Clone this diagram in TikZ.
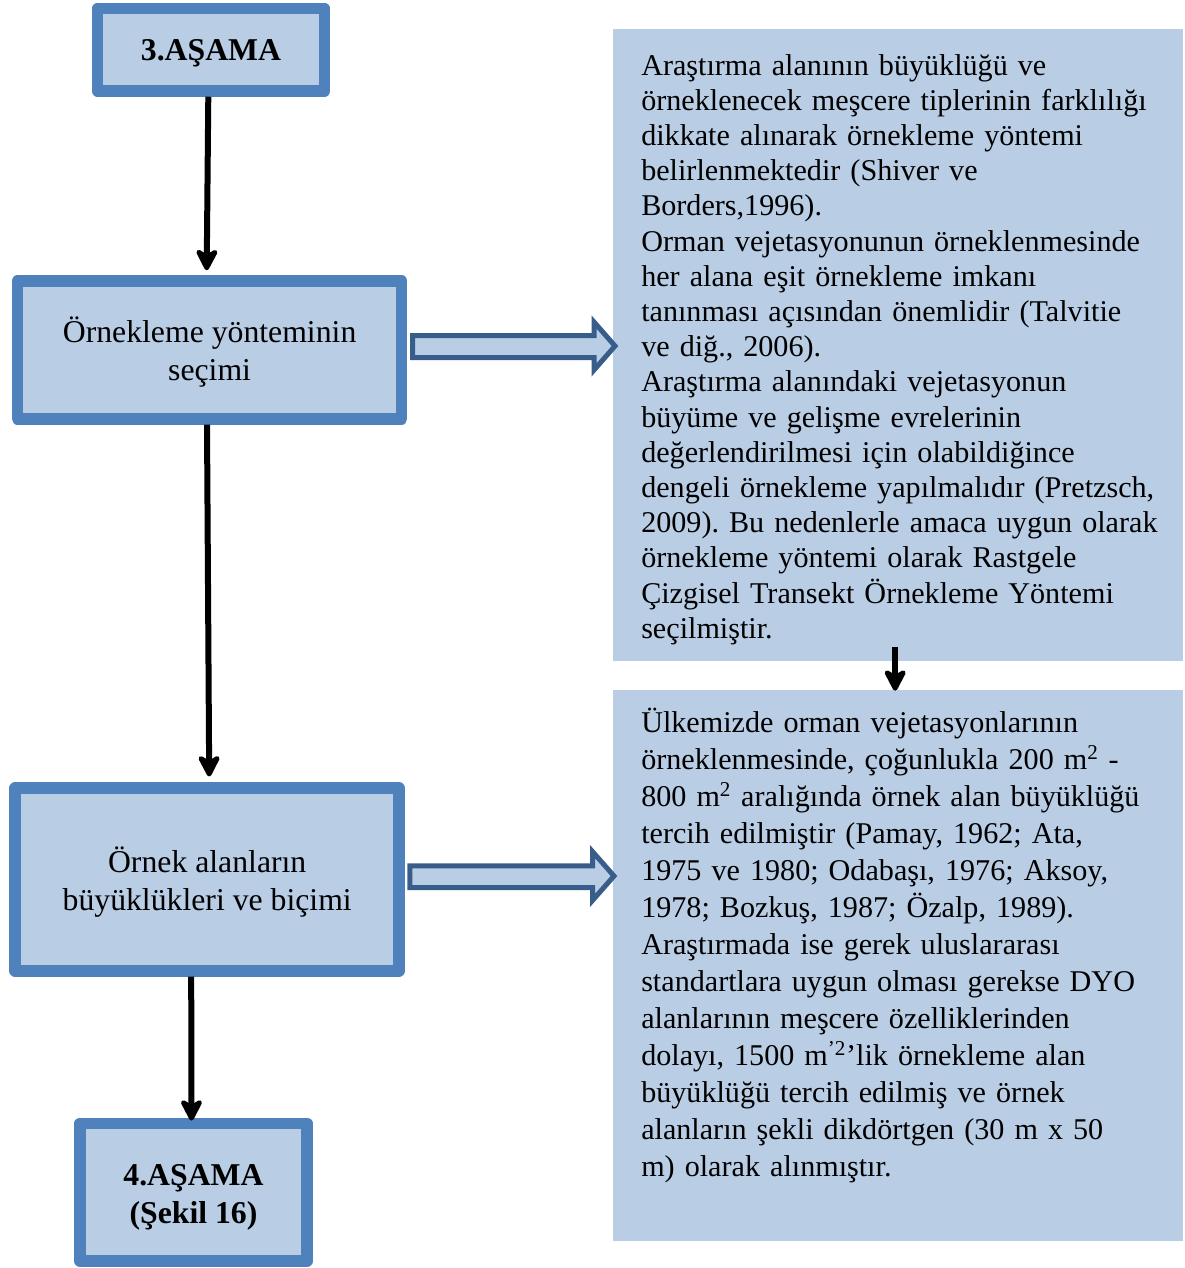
\documentclass[tikz,border=0pt]{standalone}
\usepackage{fontspec}
\setmainfont{Liberation Serif}
\usetikzlibrary{arrows.meta,calc,fit}

\definecolor{boxfill}{HTML}{B9CDE5}
\definecolor{boxline}{HTML}{4F81BD}
\definecolor{blockline}{HTML}{385D8A}

\tikzset{
  stagebox/.style={draw=boxline, fill=boxfill, line width=8.6pt, line join=round,
    inner sep=0pt},
  stagetext/.style={inner sep=0pt, align=center, font=\fontsize{23.8pt}{28.5pt}\selectfont},
  stagebold/.style={stagetext, font=\fontsize{23.8pt}{28.5pt}\selectfont\bfseries},
  infobox/.style={fill=boxfill, draw=none, inner sep=0pt},
  infotext/.style={anchor=base west, inner sep=0pt, align=left, text width=425pt},
  flowarrow/.style={line width=4.5pt, black,
    -{Stealth[length=20pt, width=20.5pt, inset=6pt, round]}},
  blockarrow/.style={draw=blockline, fill=boxfill, line width=3.75pt, line join=miter},
}

\begin{document}
\frenchspacing
\begin{tikzpicture}[x=0.75pt, y=-0.75pt]
\useasboundingbox (0,0) rectangle (1185,1268);

% left column: stage boxes
\node[stagebox, fit={(97.5,8.5) (324.5,91)}] (b1) {};
\node[stagebox, fit={(17.5,281) (401.7,418.8)}] (b2) {};
\node[stagebox, fit={(15.2,788.2) (399.2,970.8)}] (b3) {};
\node[stagebox, fit={(80,1123.3) (307,1261)}] (b4) {};

\node[stagebold] (b1txt) at ($(b1.center)+(0,4)$) {3.AŞAMA};
\node[stagetext] (b2txt) at ($(b2.center)+(0,2)$) {Örnekleme yönteminin\\seçimi};
\node[stagetext] (b3txt) at ($(b3.center)+(0,2.5)$) {Örnek alanların\\büyüklükleri ve biçimi};
\node[stagebold] (b4txt) at ($(b4.center)+(0,5)$) {4.AŞAMA\\(Şekil 16)};

% right column: explanation panels
\node[infobox, fit={(613.3,29) (1183,660.7)}] (t1) {};
\node[infobox, fit={(613.3,690) (1183,1240.7)}] (t2) {};

\node[infotext, font=\fontsize{22.6pt}{26.4pt}\selectfont] (t1txt) at (641,75) {%
Araştırma alanının büyüklüğü ve\\
örneklenecek meşcere tiplerinin farklılığı\\
dikkate alınarak örnekleme yöntemi\\
belirlenmektedir (Shiver ve\\
Borders,1996).\\
Orman vejetasyonunun örneklenmesinde\\
her alana eşit örnekleme imkanı\\
tanınması açısından önemlidir (Talvitie\\
ve diğ., 2006).\\
Araştırma alanındaki vejetasyonun\\
büyüme ve gelişme evrelerinin\\
değerlendirilmesi için olabildiğince\\
dengeli örnekleme yapılmalıdır (Pretzsch,\\
2009). Bu nedenlerle amaca uygun olarak\\
örnekleme yöntemi olarak Rastgele\\
Çizgisel Transekt Örnekleme Yöntemi\\
seçilmiştir.};

\node[infotext, font=\fontsize{22.6pt}{27.75pt}\selectfont] (t2txt) at (641,732.5) {%
Ülkemizde orman vejetasyonlarının\\
örneklenmesinde, çoğunlukla 200 m\textsuperscript{2} -\\
800 m\textsuperscript{2} aralığında örnek alan büyüklüğü\\
tercih edilmiştir (Pamay, 1962; Ata,\\
1975 ve 1980; Odabaşı, 1976; Aksoy,\\
1978; Bozkuş, 1987; Özalp, 1989).\\
Araştırmada ise gerek uluslararası\\
standartlara uygun olması gerekse DYO\\
alanlarının meşcere özelliklerinden\\
dolayı, 1500 m\textsuperscript{’2}’lik örnekleme alan\\
büyüklüğü tercih edilmiş ve örnek\\
alanların şekli dikdörtgen (30 m x 50\\
m) olarak alınmıştır.};

% vertical flow arrows
\draw[flowarrow] ($(b1.south)+(-2.7,0)$) -- ($(b2.north)+(-2.9,-5)$);
\draw[flowarrow] ($(b2.south)+(-2.6,0)$) -- ($(b3.north)+(2,-6)$);
\draw[flowarrow] ($(b3.south)+(-16,0)$) -- ($(b4.north)+(-2,3)$);
\draw[flowarrow] ($(t1.south)+(-3,-14)$) -- ($(t2.north)+(-3,1)$);

% hollow block arrows pointing to the panels
\draw[blockarrow] (412.5,335.5) -- (594,335.5) -- (594,322) -- (615,346)
  -- (594,370) -- (594,357.5) -- (412.5,357.5) -- cycle;
\draw[blockarrow] (409.8,865.8) -- (592.7,865.8) -- (592.7,851.8) -- (614,876)
  -- (592.7,900.2) -- (592.7,887.5) -- (409.8,887.5) -- cycle;
\end{tikzpicture}
\end{document}
